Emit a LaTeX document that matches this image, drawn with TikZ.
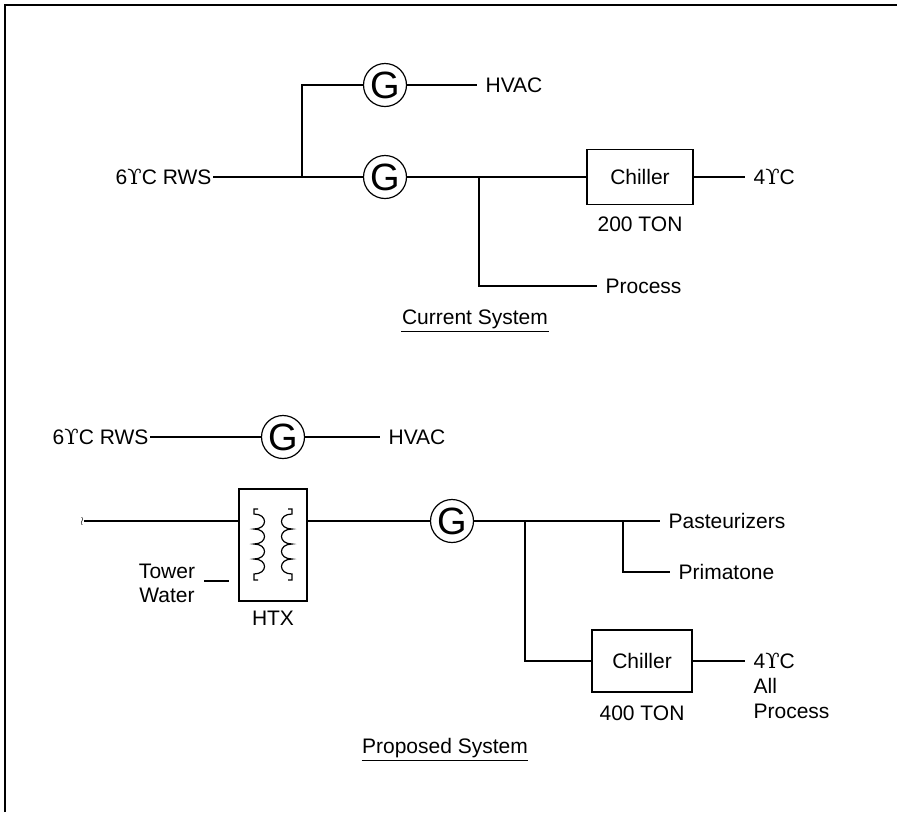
\documentclass[tikz,border=0pt]{standalone}
\usepackage{fontspec}
\setmainfont{Liberation Sans}
\newfontfamily\degfont{DejaVu Serif}
\usetikzlibrary{positioning}
\newcommand{\dg}{{\degfont ϒ}}

\begin{document}
\begin{tikzpicture}[x=1pt, y=-1pt, line width=1.2pt, font=\fontsize{21}{24}\selectfont,
    gauge/.style={circle, draw, minimum size=43pt, inner sep=0pt, font=\fontsize{38}{38}\selectfont},
    unit/.style={draw, minimum width=106pt, minimum height=55pt, inner sep=0pt},
    lbl/.style={anchor=west, inner xsep=8pt, inner ysep=0pt},
    src/.style={anchor=east, inner xsep=1pt, inner ysep=0pt},
    title/.style={anchor=base, inner xsep=0pt, inner ysep=2.6pt}]

    \useasboundingbox (0,0) rectangle (897,812);
    \draw[line width=2pt] (5,812) -- (5,5) -- (897,5);

    % Current system
    \node[src] (rws1) at (213,177) {6\dg C RWS};
    \node[gauge] (g1) at (385,85) {G};
    \node[gauge] (g2) at (385,177) {G};
    \node[lbl] (hvac1) at (477,85) {HVAC};
    \node[unit] (ch1) at (640,177) {Chiller};
    \node (ton1) at (640,224) {200 TON};
    \node[lbl] (out1) at (745,177) {4\dg C};
    \node[lbl] (proc1) at (597,286) {Process};
    \node[title] (cur) at (475,324) {Current System};
    \coordinate (j1) at (302,177);
    \coordinate (j2) at (479,177);

    \draw (rws1) -- (g2) -- (ch1) -- (out1);
    \draw (j1) |- (g1);
    \draw (g1) -- (hvac1);
    \draw (j2) |- (proc1);
    \draw (cur.south west) -- (cur.south east);

    % Proposed system
    \node[src] (rws2) at (150,437) {6\dg C RWS};
    \node[gauge] (g3) at (283,437) {G};
    \node[lbl] (hvac2) at (380,437) {HVAC};
    \node[inner sep=0pt, font=\fontsize{13}{13}\selectfont] (tw) at (82,521) {$\wr$};
    \node[draw, minimum width=68pt, minimum height=112pt, inner sep=0pt] (htx) at (273,545) {};
    \node (htxl) at (273,618) {HTX};
    \node[align=center, inner sep=0pt] (twl) at (167,583) {Tower\\Water};
    \coordinate (dsa) at (204,581);
    \coordinate (dsb) at (229,581);
    \node[gauge] (g4) at (452,521) {G};
    \coordinate (j3) at (525,521);
    \coordinate (j4) at (623,521);
    \node[lbl] (past) at (660,521) {Pasteurizers};
    \node[lbl] (prim) at (670,572) {Primatone};
    \node[unit, minimum width=100pt, minimum height=62pt] (ch2) at (642,661) {Chiller};
    \node (ton2) at (642,713) {400 TON};
    \node[lbl] (out2) at (745,661) {4\dg C};
    \node[lbl] (all) at (745,686) {All};
    \node[lbl] (proc2) at (745,711) {Process};
    \node[title] (prop) at (445,753) {Proposed System};

    % coils of the exchanger
    \foreach \cx/\b/\tx in {254/14/258, 292/-14/288}{
        \draw (\tx,509) -- (\cx,509) -- (\cx,514)
            \foreach \k in {0,...,3}{ .. controls +(\b,0) and +(\b,0) .. ++(0,15) }
            -- (\cx,580) -- (\tx,580);
    }

    \draw (rws2) -- (g3) -- (hvac2);
    \draw (tw) -- (tw -| htx.west);
    \draw (g4 -| htx.east) -- (g4) -- (past);
    \draw (dsa) -- (dsb);
    \draw (j4) |- (prim);
    \draw (j3) |- (ch2);
    \draw (ch2) -- (out2);
    \draw (prop.south west) -- (prop.south east);
\end{tikzpicture}
\end{document}
